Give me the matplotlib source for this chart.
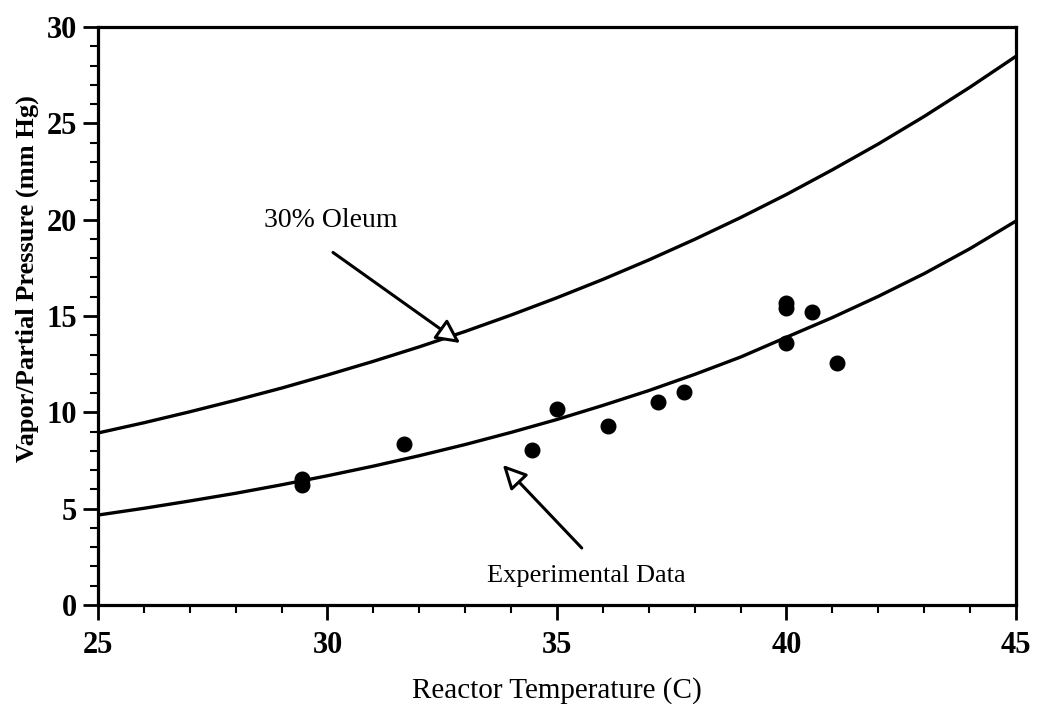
import numpy as np
import matplotlib
matplotlib.use("Agg")
import matplotlib.pyplot as plt
from matplotlib.ticker import MultipleLocator

# curves, every 1 C
temp_curve = [25, 26, 27, 28, 29, 30, 31, 32, 33, 34, 35,
              36, 37, 38, 39, 40, 41, 42, 43, 44, 45]
oleum_30 = [8.93, 9.46, 10.03, 10.63, 11.26, 11.94, 12.65, 13.40, 14.20, 15.05, 15.95,
            16.90, 17.91, 18.98, 20.11, 21.31, 22.59, 23.93, 25.36, 26.88, 28.48]
fit_exp = [4.67, 5.02, 5.40, 5.80, 6.24, 6.71, 7.21, 7.75, 8.33, 8.96, 9.63,
           10.36, 11.13, 11.97, 12.87, 13.90, 14.92, 16.02, 17.20, 18.50, 19.93]

# experimental points
temp_exp = [29.45, 29.45, 31.67, 34.45, 35.0, 36.11, 37.2, 37.77,
            40.0, 40.0, 40.0, 40.56, 41.1]
press_exp = [6.55, 6.25, 8.35, 8.05, 10.15, 9.3, 10.55, 11.05,
             15.7, 15.4, 13.6, 15.2, 12.55]

plt.rcParams['font.family'] = ['Liberation Serif', 'DejaVu Serif']

fig = plt.figure(figsize=(10.37, 7.04), dpi=100)
ax = fig.add_axes([0.0945, 0.1406, 0.8852, 0.821])

ax.plot(temp_curve, oleum_30, color='black', lw=2.4)
ax.plot(temp_curve, fit_exp, color='black', lw=2.4)
ax.plot(temp_exp, press_exp, 'o', color='black', ms=10.5)

ax.set_xlim(25, 45)
ax.set_ylim(0, 30)
ax.xaxis.set_major_locator(MultipleLocator(5))
ax.xaxis.set_minor_locator(MultipleLocator(1))
ax.yaxis.set_major_locator(MultipleLocator(5))
ax.yaxis.set_minor_locator(MultipleLocator(1))
ax.tick_params(which='major', direction='out', length=11, width=2, labelsize=22, pad=4)
ax.tick_params(axis='x', which='major', pad=8)
ax.tick_params(which='minor', direction='out', length=6, width=1.5)
ax.tick_params(top=False, right=False, which='both')
for lab in ax.get_xticklabels() + ax.get_yticklabels():
    lab.set_fontweight('bold')
for s in ax.spines.values():
    s.set_linewidth(2.3)

ax.set_xlabel("Reactor Temperature (C)", fontsize=21, labelpad=12)
ax.set_ylabel("Vapor/Partial Pressure (mm Hg)", fontsize=19, fontweight='bold')
ax.yaxis.set_label_coords(-0.064, 0.564)

arrow = dict(arrowstyle='-|>', fc='white', ec='black', lw=2.2, mutation_scale=36,
             shrinkA=0, shrinkB=0)
ax.annotate("", xy=(32.89, 13.6), xytext=(30.12, 18.3), arrowprops=arrow)
ax.text(30.08, 19.96, "30% Oleum", fontsize=20, ha='center', va='center')
ax.annotate("", xy=(33.82, 7.27), xytext=(35.54, 2.96), arrowprops=arrow)
ax.text(35.65, 1.5, "Experimental Data", fontsize=19, ha='center', va='center')

fig.savefig("out.png", dpi=100)
